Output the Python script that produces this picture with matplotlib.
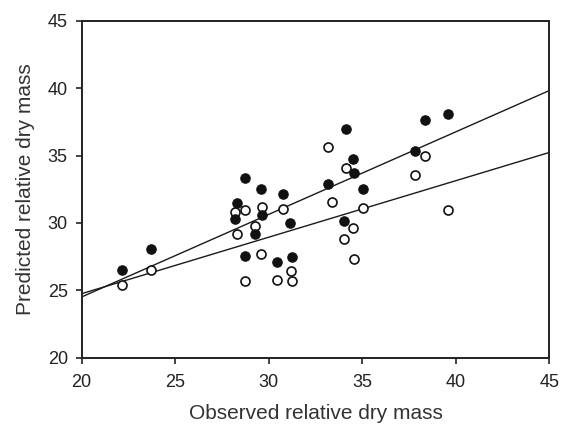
import matplotlib
matplotlib.use("Agg")
import matplotlib.pyplot as plt
import numpy as np

plt.rcParams['font.family'] = ['Liberation Sans', 'DejaVu Sans']

# Filled circles
filled_x = [22.14, 23.70, 28.72, 28.30, 28.21, 29.58, 30.77, 29.63, 29.29, 31.16, 28.72,
            30.42, 31.25, 33.19, 34.14, 34.51, 34.55, 35.04, 34.01, 37.84, 38.34, 39.60]
filled_y = [26.51, 28.09, 33.32, 31.51, 30.27, 32.55, 32.15, 30.62, 29.18, 30.02, 27.55,
            27.08, 27.50, 32.87, 36.95, 34.75, 33.69, 32.55, 30.17, 35.32, 37.67, 38.07]

# Open circles
open_x = [22.14, 23.70, 28.21, 28.72, 28.30, 29.63, 29.29, 30.77, 29.58, 28.72, 30.42, 31.25,
          31.20, 33.19, 33.39, 34.14, 35.04, 34.01, 34.51, 34.55, 37.84, 38.34, 39.60]
open_y = [25.40, 26.51, 30.84, 30.97, 29.18, 31.21, 29.78, 31.00, 27.68, 25.72, 25.77, 25.72,
          26.41, 35.64, 31.58, 34.06, 31.09, 28.79, 29.61, 27.35, 33.54, 35.00, 30.94]

# Regression lines (intercept, slope)
line_steep = (12.26, 0.6124)
line_shallow = (16.37, 0.4190)
line_x = [20, 45]

xticks = [20, 25, 30, 35, 40, 45]
yticks = [20, 25, 30, 35, 40, 45]

fig = plt.figure(figsize=(5.66, 4.26), dpi=100)
ax = fig.add_axes([0.1443, 0.1603, 0.8262, 0.7911])

lx = np.array(line_x, dtype=float)
for b0, b1 in (line_steep, line_shallow):
    ax.plot(lx, b0 + b1 * lx, color='#1a1a1a', lw=1.0, zorder=2)

ax.scatter(open_x, open_y, s=42, facecolor='white', edgecolor='#111111', linewidths=1.2, zorder=3)
ax.scatter(filled_x, filled_y, s=46, facecolor='#111111', edgecolor='#111111', linewidths=0.8, zorder=4)

ax.set_xlim(20, 45)
ax.set_ylim(20, 45)
ax.set_xticks(xticks)
ax.set_yticks(yticks)
ax.tick_params(direction='out', length=4, width=1.2, labelsize=13, colors='#222222')
ax.tick_params(axis='x', pad=8)
ax.tick_params(axis='y', pad=6)
for sp in ax.spines.values():
    sp.set_linewidth(1.4)
    sp.set_color('#222222')

ax.set_xlabel('Observed relative dry mass', fontsize=15, labelpad=9, color='#333333')
ax.set_ylabel('Predicted relative dry mass', fontsize=15, labelpad=9, color='#333333')

fig.savefig('out.png', dpi=100)
